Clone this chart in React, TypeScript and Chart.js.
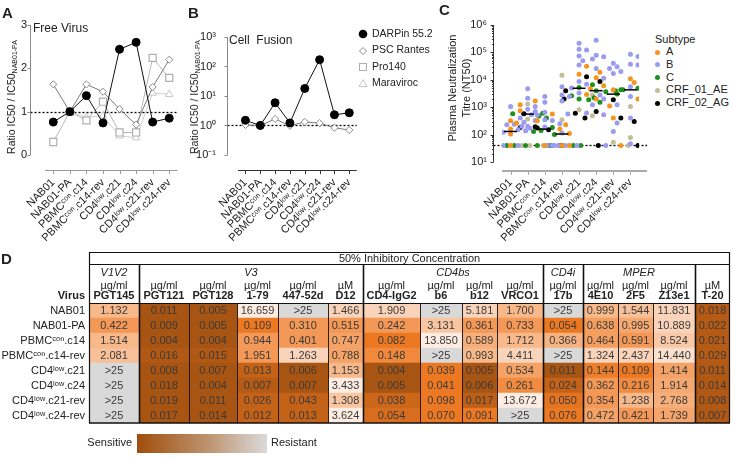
import React, { useEffect, useRef } from "react";
import { Chart, registerables } from "chart.js";
Chart.register(...registerables);

const FONT = "'Liberation Sans', Arial, Helvetica, sans-serif";
Chart.defaults.font.family = FONT;
Chart.defaults.font.size = 11;
Chart.defaults.color = "#222";

// ---------- shared categories ----------
const viruses = ["NAB01", "NAB01-PA", "PBMCᶜᵒⁿ.c14", "PBMCᶜᵒⁿ.c14-rev", "CD4ˡᵒʷ.c21", "CD4ˡᵒʷ.c24", "CD4ˡᵒʷ.c21-rev", "CD4ˡᵒʷ.c24-rev"];

// ---------- Panel A: free virus, ratio IC50 / IC50(NAB01-PA) ----------
const freeDarpin = [0.76, 1.0, 1.37, 0.74, 2.44, 2.6, 0.76, 0.85];
const freePscRantes = [1.63, 1.0, 1.63, 1.46, 1.06, 0.7, 1.57, 2.2];
const freePro140 = [0.3, 1.0, 0.8, 1.23, 0.52, 0.52, 2.24, 1.78];
const freeMaraviroc = [null, 1.0, 0.87, 0.9, 0.44, 0.4, 1.43, 1.4];
const freeTicks = [0, 1, 2, 3];

// ---------- Panel B: cell fusion ----------
const fusionDarpin = [1.5, 1.0, 5.9, 1.22, 18, 170, 2.3, 2.7];
const fusionPscRantes = [1.05, 1.0, 1.66, 0.98, 1.32, 1.2, 0.84, 0.7];
const fusionPro140 = [null, null, null, null, null, null, null, null];
const fusionMaraviroc = [null, null, null, null, null, null, null, null];
const fusionTicks = [0.1, 1, 10, 100, 1000];

// ---------- Panel C: plasma neutralization titres (NT50) per subtype ----------
const subtypes = ["A", "B", "C", "CRF_01_AE", "CRF_02_AG"];
const titreA = [
  [320, 160, 105, 40], [1700, 1230, 740, 263], [560, 320, 160, 40], [230, 110, 40, 40],
  [31000, 16000, 4700, 2900], [19000, 12000, 6100, 2000], [4300, 1100, 400, 40], [11000, 8000, 4000, 2000],
];
const titreB = [
  [1070, 240, 230, 200, 175, 150, 138, 123, 40, 40],
  [4700, 2100, 1070, 850, 700, 525, 400, 330, 280, 200],
  [2450, 1500, 650, 520, 350, 330, 250, 190, 170, 40],
  [5600, 2800, 2450, 1700, 115, 40, 40, 40, 40, 40],
  [214000, 129000, 123000, 74000, 50000, 35000, 8700, 6900, 5000, 3300, 620, 560],
  [280000, 79000, 70000, 58000, 26000, 11500, 2800, 2000, 1230, 525],
  [40000, 30000, 26000, 20000, 17000, 1230, 263, 130, 40],
  [85000, 71000, 37000, 35000, 5600, 2450, 400, 46],
];
const titreC = [
  [40, 40, 40, 40], [600, 575, 480, 400], [180, 140, 130, 40, 40], [100, 40, 40, 40],
  [5200, 2600, 2200, 2000], [6600, 4000, 1860, 1500], [4300, 3700, 3000], [4900, 4300, 4000],
];
const titreAE = [[40], [1300, 370], [40, 40], [14500, 350, 40], [800], [2800, 490], [52, 40], [1070, 79]];
const titreAG = [[40], [575, 195, 180], [175, 150], [4000, 40], [13000, 2000, 600], [8700, 690, 400], [1860, 400, 40], [300, 40]];
const titreMedians = [130, 560, 158, 105, 4900, 4000, 3000, 4300];
const detectionLimit = 40;
const titreTicks = [10, 100, 1000, 10000, 100000, 1000000];

// ---------- Panel D: 50% inhibitory concentration table ----------
const tableColumns = ["PGT145", "PGT121", "PGT128", "1-79", "447-52d", "D12", "CD4-IgG2", "b6", "b12", "VRCO1", "17b", "4E10", "2F5", "Z13e1", "T-20"];
const tableUnits = ["µg/ml", "µg/ml", "µg/ml", "µg/ml", "µg/ml", "µM", "µg/ml", "µg/ml", "µg/ml", "µg/ml", "µg/ml", "µg/ml", "µg/ml", "µg/ml", "µM"];
const tableGroups = [
  { name: "V1V2", from: 0, to: 0 },
  { name: "V3", from: 1, to: 5 },
  { name: "CD4bs", from: 6, to: 9 },
  { name: "CD4i", from: 10, to: 10 },
  { name: "MPER", from: 11, to: 13 },
  { name: "", from: 14, to: 14 },
];
const icPGT145 = [1.132, 0.422, 1.514, 2.081, ">25", ">25", ">25", ">25"];
const icPGT121 = [0.011, 0.009, 0.004, 0.016, 0.008, 0.018, 0.019, 0.017];
const icPGT128 = [0.005, 0.005, 0.004, 0.015, 0.007, 0.004, 0.011, 0.014];
const ic179 = [16.659, 0.109, 0.944, 1.951, 0.013, 0.007, 0.026, 0.012];
const ic44752d = [">25", 0.31, 0.401, 1.263, 0.006, 0.007, 0.043, 0.013];
const icD12 = [1.466, 0.515, 0.747, 0.788, 1.153, 3.433, 1.308, 3.624];
const icCD4IgG2 = [1.909, 0.242, 0.082, 0.148, 0.004, 0.005, 0.038, 0.054];
const icB6 = [">25", 3.131, 13.85, ">25", 0.039, 0.041, 0.098, 0.07];
const icB12 = [5.181, 0.361, 0.589, 0.993, 0.005, 0.006, 0.017, 0.091];
const icVRCO1 = [1.7, 0.733, 1.712, 4.411, 0.534, 0.261, 13.672, ">25"];
const ic17b = [">25", 0.054, 0.366, ">25", 0.011, 0.024, 0.05, 0.076];
const ic4E10 = [0.999, 0.638, 0.464, 1.324, 0.144, 0.362, 0.354, 0.472];
const ic2F5 = [1.544, 0.995, 0.591, 2.437, 0.109, 0.216, 1.238, 0.421];
const icZ13e1 = [11.831, 10.889, 8.524, 14.44, 1.414, 1.914, 2.768, 1.739];
const icT20 = [0.018, 0.022, 0.021, 0.029, 0.011, 0.014, 0.008, 0.007];
const tableValues = [icPGT145, icPGT121, icPGT128, ic179, ic44752d, icD12, icCD4IgG2, icB6, icB12, icVRCO1, ic17b, ic4E10, ic2F5, icZ13e1, icT20];

// ---------- styles / layout (not data) ----------
// shade level per cell (0 = sensitive dark brown ... 6 = pale, -1 = resistant grey)
const cellShade = [
  [4, 3, 4, 4.3, -1, -1, -1, -1],
  [0, 0, 0, 0.3, 0, 0, 0, 0],
  [0, 0, 0, 0.3, 0, 0, 0, 0],
  [6, 2, 3, 3, 1, 0.5, 1, 1],
  [-1, 3, 3, 5, 0, 0, 1, 1],
  [5, 3, 3.3, 3.3, 4, 6, 4.5, 6],
  [5, 3, 2, 2.5, 0, 0, 1.2, 1.5],
  [-1, 4.5, 6, -1, 2, 2, 2, 2],
  [5, 3, 3.7, 4, 0, 0, 0.8, 2],
  [4, 3, 4, 5, 3.3, 2.6, 6, -1],
  [-1, 2, 3.8, -1, 0, 1, 1.8, 2],
  [4, 3.2, 3.2, 5, 2.2, 3, 3, 3.3],
  [4.3, 3.5, 3, 5, 2, 2.6, 4, 3],
  [5, 5, 4.6, 5.5, 3.3, 3.5, 3.7, 3.4],
  [0.5, 0.5, 0.5, 0.5, 0.3, 0.3, 0.3, 0.3],
];
const shadePalette = [
  [168, 84, 18], [196, 98, 24], [236, 121, 34], [243, 152, 86], [247, 184, 138], [250, 212, 186], [253, 236, 225],
];
const columnWidths = [50, 50, 48, 41, 50, 35, 57, 42, 35, 46, 40, 35, 35, 42, 35];
const subtypeColors = ["#F7941D", "#9B9BF0", "#1F8F1F", "#C4BE98", "#000000"];

function shadeColor(level: number) {
  if (level < 0) return "rgb(217,217,217)";
  const i = Math.min(Math.floor(level), 5);
  const t = level - i;
  const a = shadePalette[i], b = shadePalette[i + 1];
  const c = a.map((v, k) => Math.round(v + (b[k] - v) * t));
  return `rgb(${c[0]},${c[1]},${c[2]})`;
}

const SUP: Record<string, string> = { "-": "⁻", "0": "⁰", "1": "¹", "2": "²", "3": "³", "4": "⁴", "5": "⁵", "6": "⁶", "7": "⁷", "8": "⁸", "9": "⁹" };
const powLabel = (v: number) => "10" + String(Math.round(Math.log10(v))).split("").map((c) => SUP[c]).join("");

// ---------- plugin: GraphPad-like detached axes ----------
const gpAxes = {
  id: "gpAxes",
  beforeDatasetsDraw(chart: any, _a: any, o: any) {
    const { ctx, chartArea, scales } = chart;
    const y = scales.y, x = scales.x;
    ctx.save();
    const ax = o.axisX + 0.5;
    if (o.ref != null) {
      const py = Math.round(y.getPixelForValue(o.ref)) + 0.5;
      ctx.setLineDash([2, 2]);
      ctx.strokeStyle = "#000";
      ctx.lineWidth = 1.3;
      ctx.beginPath();
      ctx.moveTo(ax, py);
      ctx.lineTo(chartArea.right + (o.xExtend || 0), py);
      ctx.stroke();
      ctx.setLineDash([]);
    }
    ctx.strokeStyle = o.yColor;
    ctx.lineWidth = 1;
    ctx.beginPath();
    ctx.moveTo(ax, y.getPixelForValue(o.yTo));
    ctx.lineTo(ax, y.getPixelForValue(o.yFrom));
    ctx.stroke();
    for (const t of o.yTicks) {
      const p = Math.round(y.getPixelForValue(t)) + 0.5;
      ctx.beginPath(); ctx.moveTo(ax - 3, p); ctx.lineTo(ax, p); ctx.stroke();
    }
    if (o.minor) {
      for (const t of o.minor) {
        const p = Math.round(y.getPixelForValue(t)) + 0.5;
        ctx.beginPath(); ctx.moveTo(ax - 1.5, p); ctx.lineTo(ax, p); ctx.stroke();
      }
    }
    ctx.strokeStyle = o.xColor;
    ctx.lineWidth = o.xWidth;
    const by = chartArea.bottom + o.xWidth / 2;
    ctx.beginPath();
    ctx.moveTo(chartArea.left, by);
    ctx.lineTo(chartArea.right + (o.xExtend || 0), by);
    ctx.stroke();
    ctx.lineWidth = 1;
    for (let i = 0; i < viruses.length; i++) {
      const px = Math.round(x.getPixelForValue(i)) + 0.5;
      ctx.beginPath(); ctx.moveTo(px, chartArea.bottom); ctx.lineTo(px, chartArea.bottom + o.xWidth + 3); ctx.stroke();
    }
    ctx.restore();
  },
};

const catX = (xHeight: number) => ({
  x: {
    type: "linear", min: -0.5, max: 7.5,
    afterBuildTicks: (s: any) => { s.ticks = viruses.map((_, i) => ({ value: i })); },
    afterFit: (s: any) => { s.height = xHeight; },
    grid: { display: false, drawTicks: false }, border: { display: false },
    ticks: { autoSkip: false, minRotation: 45, maxRotation: 45, padding: 6, font: { size: 11 }, color: "#222", callback: (v: any) => viruses[v] },
  },
});

function lineSet(label: string, values: any[], style: any) {
  return {
    label,
    data: values.map((v, i) => ({ x: i, y: v })),
    borderColor: style.line, borderWidth: 1,
    pointStyle: style.shape, pointRadius: style.r, pointBackgroundColor: style.fill,
    pointBorderColor: style.stroke, pointBorderWidth: style.bw || 1, spanGaps: false, tension: 0,
  };
}
const sDarpin = { line: "#111", shape: "circle", r: 4, fill: "#000", stroke: "#000" };
const sPsc = { line: "#7a7a7a", shape: "rectRot", r: 3.6, fill: "#fff", stroke: "#8a8a8a" };
const sPro = { line: "#b8b8b8", shape: "rect", r: 5, fill: "#fff", stroke: "#b0b0b0", bw: 1.2 };
const sMara = { line: "#cfcfcf", shape: "triangle", r: 4.3, fill: "#fff", stroke: "#c8c8c8" };

const base = {
  animation: false, responsive: false, events: [],
  plugins: { legend: { display: false }, tooltip: { enabled: false } },
};

function configA() {
  return {
    type: "line",
    data: { datasets: [
      lineSet("DARPin 55.2", freeDarpin, sDarpin), lineSet("PSC Rantes", freePscRantes, sPsc),
      lineSet("Pro140", freePro140, sPro), lineSet("Maraviroc", freeMaraviroc, sMara),
    ] },
    options: {
      ...base,
      layout: { padding: { top: 25, right: 7, left: 0, bottom: 0 } },
      scales: {
        ...catX(78),
        y: {
          type: "linear", min: -0.346, max: 3,
          afterBuildTicks: (s: any) => { s.ticks = freeTicks.map((v) => ({ value: v })); },
          afterFit: (s: any) => { s.width = 45; },
          grid: { display: false, drawTicks: false }, border: { display: false },
          ticks: { padding: 18, font: { size: 11 }, color: "#222", callback: (v: any) => String(v) },
        },
      },
      plugins: { ...base.plugins, gpAxes: { axisX: 30, yFrom: 0, yTo: 3, yTicks: freeTicks, ref: 1, yColor: "#8a8a8a", xColor: "#9a9a9a", xWidth: 1 } },
    },
    plugins: [gpAxes],
  };
}

function configB() {
  return {
    type: "line",
    data: { datasets: [
      lineSet("DARPin 55.2", fusionDarpin, sDarpin), lineSet("PSC Rantes", fusionPscRantes, sPsc),
      lineSet("Pro140", fusionPro140, sPro), lineSet("Maraviroc", fusionMaraviroc, sMara),
    ] },
    options: {
      ...base,
      layout: { padding: { top: 37, right: 5, left: 0, bottom: 0 } },
      scales: {
        ...catX(78),
        y: {
          type: "logarithmic", min: 0.031, max: 1000,
          afterBuildTicks: (s: any) => { s.ticks = fusionTicks.map((v) => ({ value: v })); },
          afterFit: (s: any) => { s.width = 58; },
          grid: { display: false, drawTicks: false }, border: { display: false },
          ticks: { padding: 22, font: { size: 11 }, color: "#222", callback: (v: any) => powLabel(v) },
        },
      },
      plugins: { ...base.plugins, gpAxes: { axisX: 47, yFrom: 0.1, yTo: 1000, yTicks: fusionTicks, ref: 1, yColor: "#8a8a8a", xColor: "#333", xWidth: 1 } },
    },
    plugins: [gpAxes],
  };
}

// deterministic beeswarm placement of dots inside each category column
function swarm(pxPerDecade: number, pxPerCat: number, r: number) {
  const groups = [titreA, titreB, titreC, titreAE, titreAG];
  const out: any[][] = subtypes.map(() => []);
  for (let ci = 0; ci < viruses.length; ci++) {
    const pts: { v: number; s: number }[] = [];
    groups.forEach((g, s) => g[ci].forEach((v) => pts.push({ v, s })));
    pts.sort((a, b) => b.v - a.v || a.s - b.s);
    const placed: { px: number; py: number }[] = [];
    for (const p of pts) {
      const py = Math.log10(p.v) * pxPerDecade;
      let best = 0, bestD = -1;
      const step = r * 1.5;
      const cands = [0];
      for (let k = 1; k <= 5; k++) cands.push(k * step, -k * step);
      for (const dx of cands) {
        let minD = Infinity;
        for (const q of placed) minD = Math.min(minD, Math.hypot(q.px - dx, q.py - py));
        if (minD >= 2 * r) { best = dx; bestD = Infinity; break; }
        if (minD > bestD) { bestD = minD; best = dx; }
      }
      placed.push({ px: best, py });
      out[p.s].push({ x: ci + best / pxPerCat, y: p.v });
    }
  }
  return out;
}

function configC() {
  const pts = swarm(27.4, 17.125, 2.5);
  const minor: number[] = [];
  for (let e = 1; e < 6; e++) for (let m = 2; m <= 9; m++) minor.push(m * Math.pow(10, e));
  return {
    type: "scatter",
    data: { datasets: [
      { label: "median", data: titreMedians.map((v, i) => ({ x: i, y: v })), pointStyle: "line", pointRadius: 6.5, borderColor: "#000", pointBorderWidth: 1.5, borderWidth: 1.5 },
      ...subtypes.map((s, k) => ({
        label: s, data: pts[k], pointRadius: 2.5, pointBorderWidth: 0,
        pointBackgroundColor: subtypeColors[k], pointBorderColor: subtypeColors[k], backgroundColor: subtypeColors[k],
      })),
    ] },
    options: {
      ...base,
      layout: { padding: { top: 25, right: 11, left: 0, bottom: 0 } },
      scales: {
        ...catX(78),
        y: {
          type: "logarithmic", min: 5.1, max: 1000000,
          afterBuildTicks: (s: any) => { s.ticks = titreTicks.map((v) => ({ value: v })); },
          afterFit: (s: any) => { s.width = 72; },
          grid: { display: false, drawTicks: false }, border: { display: false },
          ticks: { padding: 15, font: { size: 11 }, color: "#222", callback: (v: any) => powLabel(v) },
        },
      },
      plugins: { ...base.plugins, gpAxes: { axisX: 63, yFrom: 10, yTo: 1000000, yTicks: titreTicks, minor, ref: detectionLimit, yColor: "#333", xColor: "#aaa", xWidth: 2, xExtend: 8 } },
    },
    plugins: [gpAxes],
  };
}

// ---------- table drawn as floating horizontal bars ----------
const tablePlugin = {
  id: "icTable",
  afterDatasetsDraw(chart: any) {
    const { ctx, chartArea: a, scales } = chart;
    const x = scales.x, y = scales.y;
    const edges = [0];
    columnWidths.forEach((w) => edges.push(edges[edges.length - 1] + w));
    const px = (v: number) => x.getPixelForValue(v);
    const top = a.top;
    const topBorder = top - 51, row1 = top - 39;
    ctx.save();
    ctx.textAlign = "center";
    ctx.textBaseline = "middle";
    ctx.fillStyle = "#3a3a3a";
    ctx.font = `11px ${FONT}`;
    tableValues.forEach((col, ci) => {
      const cx = px((edges[ci] + edges[ci + 1]) / 2);
      col.forEach((v: any, ri: number) => {
        const txt = typeof v === "number" ? v.toFixed(3) : v;
        ctx.fillText(txt, cx, y.getPixelForValue(ri) + 0.5);
      });
    });
    ctx.fillStyle = "#222";
    ctx.fillText("50% Inhibitory Concentration", (a.left + a.right) / 2, (topBorder + row1) / 2 + 0.5);
    ctx.font = `italic 11px ${FONT}`;
    tableGroups.forEach((g) => ctx.fillText(g.name, (px(edges[g.from]) + px(edges[g.to + 1])) / 2, top - 30));
    tableColumns.forEach((c, ci) => {
      const cx = px((edges[ci] + edges[ci + 1]) / 2);
      ctx.font = `11px ${FONT}`;
      ctx.fillText(tableUnits[ci], cx, top - 17);
      ctx.font = `bold 11px ${FONT}`;
      ctx.fillText(c, cx, top - 7);
    });
    ctx.textAlign = "right";
    ctx.fillText("Virus", a.left - 4, top - 7);
    ctx.strokeStyle = "#111";
    const groupEdges = new Set(tableGroups.map((g) => g.from));
    for (let i = 1; i < edges.length - 1; i++) {
      const xx = Math.round(px(edges[i])) + 0.5;
      ctx.beginPath();
      if (groupEdges.has(i)) { ctx.lineWidth = 1.6; ctx.moveTo(xx, row1); }
      else { ctx.lineWidth = 0.9; ctx.moveTo(xx, top); }
      ctx.lineTo(xx, a.bottom);
      ctx.stroke();
    }
    const hl = (yy: number, w: number) => { ctx.lineWidth = w; ctx.beginPath(); ctx.moveTo(a.left, yy); ctx.lineTo(a.right, yy); ctx.stroke(); };
    hl(Math.round(topBorder) + 0.5, 1);
    hl(Math.round(row1) + 0.5, 1);
    hl(Math.round(top) + 0.5, 1);
    hl(Math.round(a.bottom), 1.6);
    ctx.lineWidth = 1.2;
    ctx.beginPath(); ctx.moveTo(Math.round(a.left) + 0.5, topBorder); ctx.lineTo(Math.round(a.left) + 0.5, a.bottom); ctx.stroke();
    ctx.beginPath(); ctx.moveTo(Math.round(a.right) - 0.5, topBorder); ctx.lineTo(Math.round(a.right) - 0.5, a.bottom); ctx.stroke();
    ctx.restore();
  },
};

function configD() {
  const edges = [0];
  columnWidths.forEach((w) => edges.push(edges[edges.length - 1] + w));
  return {
    type: "bar",
    data: {
      labels: viruses,
      datasets: tableColumns.map((name, ci) => ({
        label: name,
        data: viruses.map(() => [edges[ci], edges[ci + 1]]),
        backgroundColor: viruses.map((_, ri) => shadeColor(cellShade[ci][ri])),
        borderWidth: 0, barPercentage: 1, categoryPercentage: 1, grouped: false,
      })),
    },
    options: {
      ...base,
      indexAxis: "y",
      layout: { padding: { top: 58, bottom: 35, right: 3, left: 0 } },
      scales: {
        x: { type: "linear", min: 0, max: edges[edges.length - 1], display: false },
        y: {
          type: "category",
          afterFit: (s: any) => { s.width = 89; },
          grid: { display: false, drawTicks: false }, border: { display: false },
          ticks: { padding: 4, autoSkip: false, font: { size: 11 }, color: "#222" },
        },
      },
    },
    plugins: [tablePlugin],
  };
}

function ChartBox({ left, top, width, height, make }: any) {
  const ref = useRef<HTMLCanvasElement>(null);
  useEffect(() => {
    const chart = new Chart(ref.current as HTMLCanvasElement, make());
    return () => chart.destroy();
  }, []);
  return (
    <div style={{ position: "absolute", left, top, width, height }}>
      <canvas ref={ref} width={width} height={height} style={{ width, height, display: "block" }} />
    </div>
  );
}

const abs = (left: number, top: number, extra: any = {}) => ({ position: "absolute" as const, left, top, whiteSpace: "nowrap" as const, ...extra });
const rot = (cx: number, cy: number, extra: any = {}) => ({
  position: "absolute" as const, left: cx, top: cy, transform: "translate(-50%,-50%) rotate(-90deg)", whiteSpace: "nowrap" as const, lineHeight: 1, ...extra,
});

function Marker({ kind }: { kind: string }) {
  return (
    <svg width={10} height={10} style={{ display: "inline-block", verticalAlign: "middle", marginRight: 4 }}>
      {kind === "circle" && <circle cx={5} cy={5} r={4.3} fill="#000" />}
      {kind === "diamond" && <polygon points="5,1.5 8.5,5 5,8.5 1.5,5" fill="#fff" stroke="#8a8a8a" />}
      {kind === "square" && <rect x={1.5} y={1.5} width={7} height={7} fill="#fff" stroke="#b0b0b0" />}
      {kind === "triangle" && <polygon points="5,1.5 9,8.5 1,8.5" fill="#fff" stroke="#c8c8c8" />}
    </svg>
  );
}

const legendB = [
  { label: "DARPin 55.2", kind: "circle" },
  { label: "PSC Rantes", kind: "diamond" },
  { label: "Pro140", kind: "square" },
  { label: "Maraviroc", kind: "triangle" },
];

export default function App() {
  const sub = { fontSize: 7, verticalAlign: "-2px" };
  return (
    <div style={{ position: "absolute", left: 0, top: 0, width: 733, height: 458, background: "#fff", overflow: "hidden", fontFamily: FONT, color: "#222" }}>
      <ChartBox left={0} top={0} width={185} height={248} make={configA} />
      <ChartBox left={180} top={0} width={185} height={248} make={configB} />
      <ChartBox left={430} top={0} width={220} height={248} make={configC} />
      <ChartBox left={0} top={245} width={733} height={213} make={configD} />

      <div style={abs(2, 4, { fontWeight: "bold", fontSize: 15 })}>A</div>
      <div style={abs(188, 4, { fontWeight: "bold", fontSize: 15 })}>B</div>
      <div style={abs(439, 1, { fontWeight: "bold", fontSize: 15 })}>C</div>
      <div style={abs(1, 250, { fontWeight: "bold", fontSize: 15 })}>D</div>

      <div style={rot(12, 97, { fontSize: 10.5 })}>Ratio IC50 / IC50<span style={sub}>NAB01-PA</span></div>
      <div style={rot(195, 97, { fontSize: 10.5 })}>Ratio IC50 / IC50<span style={sub}>NAB01-PA</span></div>
      <div style={rot(452, 88, { fontSize: 11 })}>Plasma Neutralization</div>
      <div style={rot(466, 88, { fontSize: 11 })}>Titre (NT50)</div>

      <div style={abs(33, 21, { fontSize: 12 })}>Free Virus</div>
      <div style={abs(229, 33, { fontSize: 12, whiteSpace: "pre" })}>{"Cell  Fusion"}</div>

      {legendB.map((l, i) => (
        <div key={l.label} style={abs(358, 26 + i * 16.3, { fontSize: 10.5, lineHeight: "14px" })}>
          <Marker kind={l.kind} />{l.label}
        </div>
      ))}

      <div style={abs(655, 32, { fontSize: 11, lineHeight: "14px" })}>Subtype</div>
      {subtypes.map((s, i) => (
        <div key={s} style={abs(655, 45 + i * 12.8, { fontSize: 11, lineHeight: "13px" })}>
          <span style={{ display: "inline-block", width: 5, height: 5, borderRadius: 3, background: subtypeColors[i], marginRight: 6, verticalAlign: "middle" }} />{s}
        </div>
      ))}

      <div style={abs(137, 434, { width: 130, height: 19, background: "linear-gradient(to right, rgb(160,78,12), rgb(190,148,112) 55%, rgb(218,218,218))" })} />
      <div style={abs(82, 436, { fontSize: 11, width: 50, textAlign: "right" })}>Sensitive</div>
      <div style={abs(271, 436, { fontSize: 11 })}>Resistant</div>
    </div>
  );
}
